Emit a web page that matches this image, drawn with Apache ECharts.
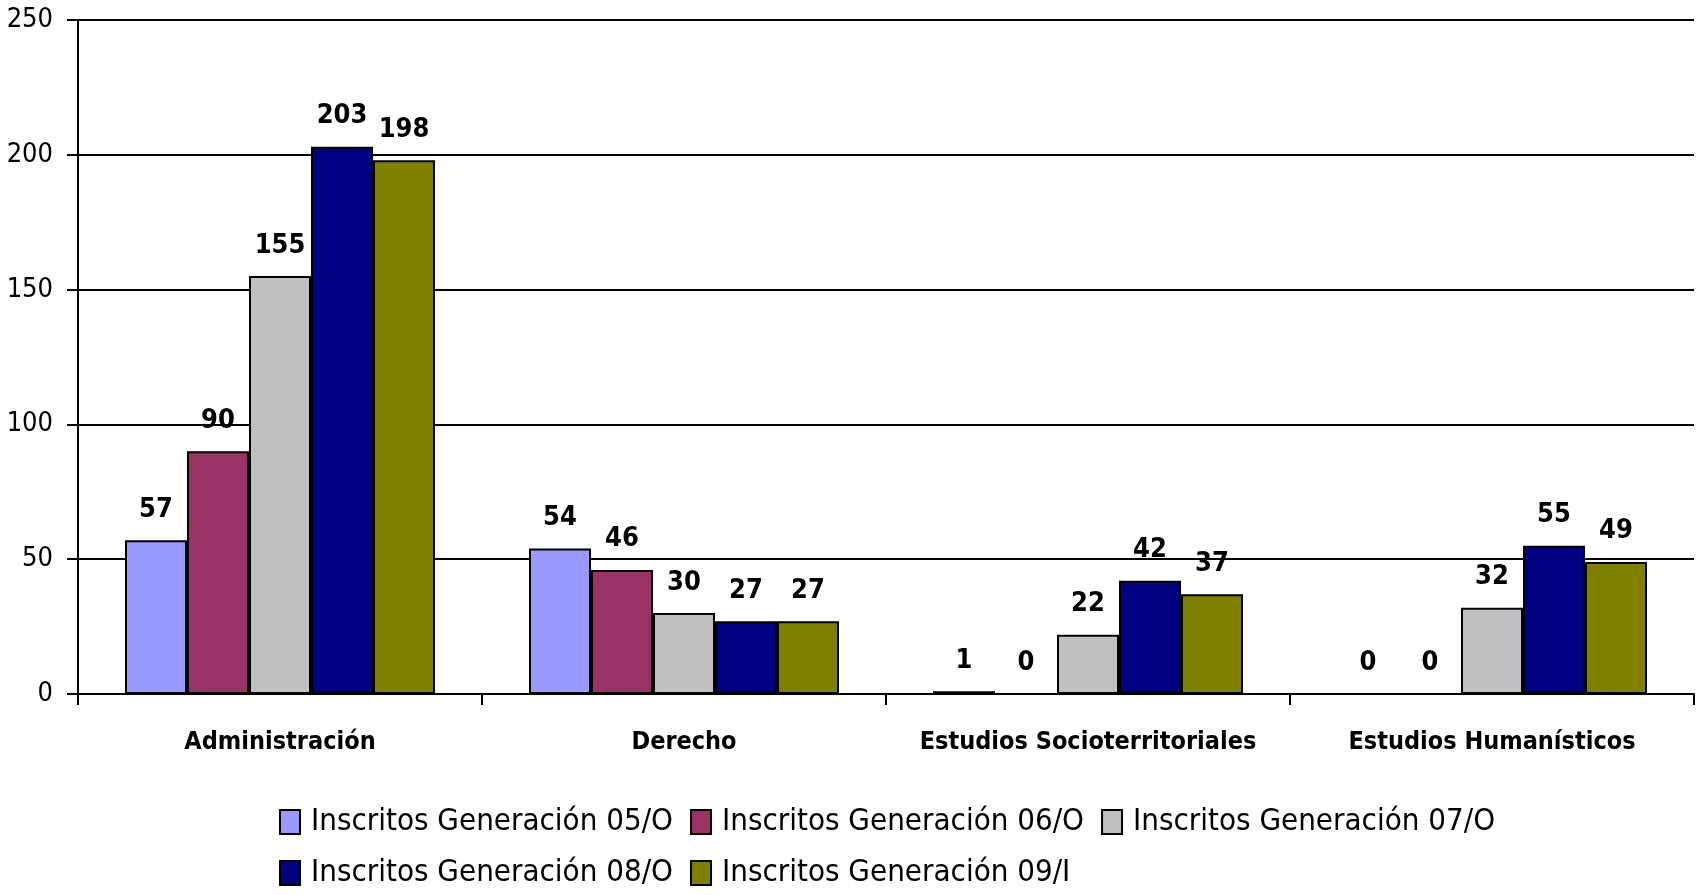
<!DOCTYPE html>
<html>
<head>
<meta charset="utf-8">
<script src="https://cdn.jsdelivr.net/npm/echarts@6/dist/echarts.min.js"></script>
<style>
  html, body { margin: 0; padding: 0; background: #fff; }
  #chart { width: 1697px; height: 895px; }
</style>
</head>
<body>
<div id="chart"></div>
<script>
// categorias
var categories = ['Administración', 'Derecho', 'Estudios Socioterritoriales', 'Estudios Humanísticos'];
// inscritos por generacion
var gen05 = [57, 54, 1, 0];
var gen06 = [90, 46, 0, 0];
var gen07 = [155, 30, 22, 32];
var gen08 = [203, 27, 42, 55];
var gen09 = [198, 27, 37, 49];
var seriesNames = ['Inscritos Generación 05/O', 'Inscritos Generación 06/O', 'Inscritos Generación 07/O', 'Inscritos Generación 08/O', 'Inscritos Generación 09/I'];
var colors = ['#9999FF', '#993366', '#C0C0C0', '#000080', '#808000'];

var FONT = "'Liberation Sans Narrow', 'Arial Narrow', 'DejaVu Sans Condensed', sans-serif";

var chart = echarts.init(document.getElementById('chart'));

function mkSeries(i, data) {
  return {
    name: seriesNames[i],
    type: 'bar',
    data: data,
    barWidth: 62,
    barGap: '0%',
    itemStyle: { color: colors[i], borderColor: '#000', borderWidth: 2 },
    label: {
      show: true,
      position: 'top',
      distance: 17,
      color: '#000',
      fontFamily: FONT,
      fontWeight: 'bold',
      fontSize: 27
    }
  };
}

chart.setOption({
  animation: false,
  grid: { left: 78, right: 3, top: 20, bottom: 201 },
  legend: {
    left: 274,
    top: 800,
    width: 1250,
    itemWidth: 20,
    itemHeight: 24,
    itemGap: 17,
    icon: 'rect',
    textStyle: { fontFamily: FONT, fontSize: 31, color: '#000', lineHeight: 26, padding: [4, 0, 4, 6] },
    data: seriesNames
  },
  xAxis: {
    type: 'category',
    data: categories,
    axisLine: { lineStyle: { color: '#000', width: 2 } },
    axisTick: { show: true, length: 11, lineStyle: { color: '#000', width: 2 } },
    axisLabel: { interval: 0, color: '#000', fontFamily: FONT, fontWeight: 'bold', fontSize: 25, margin: 36 }
  },
  yAxis: {
    type: 'value',
    min: 0,
    max: 250,
    interval: 50,
    axisLine: { show: true, lineStyle: { color: '#000', width: 2 } },
    axisTick: { show: true, length: 11, lineStyle: { color: '#000', width: 2 } },
    axisLabel: { color: '#000', fontFamily: FONT, fontSize: 27, margin: 25 },
    splitLine: { lineStyle: { color: '#000', width: 2 } }
  },
  series: [
    mkSeries(0, gen05),
    mkSeries(1, gen06),
    mkSeries(2, gen07),
    mkSeries(3, gen08),
    mkSeries(4, gen09)
  ]
});
</script>
</body>
</html>
